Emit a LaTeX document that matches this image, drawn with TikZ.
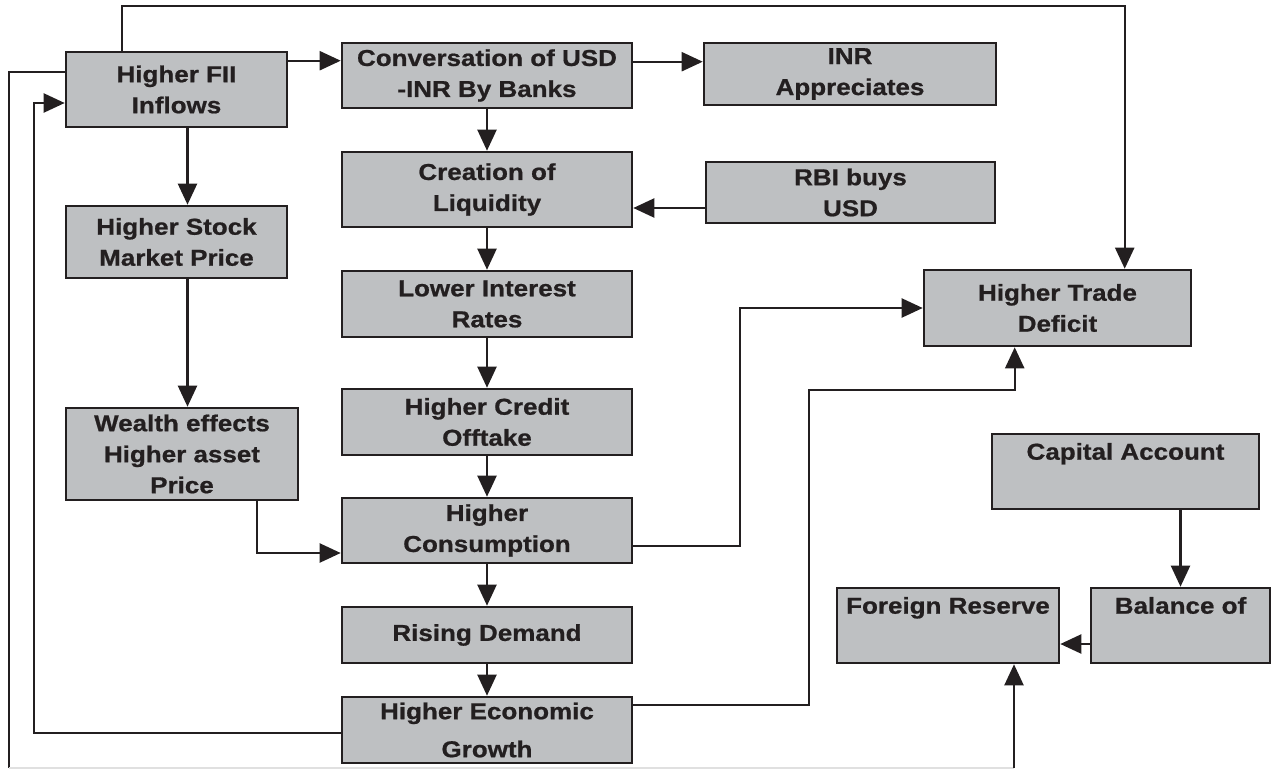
\documentclass[tikz,border=0pt]{standalone}
\usepackage{fontspec}
\setmainfont{Liberation Sans}[FakeStretch=1.13, BoldFeatures={FakeBold=0.8}]
\usetikzlibrary{arrows.meta, positioning, calc}
\definecolor{boxgray}{RGB}{190,192,194}
\definecolor{inkgray}{RGB}{35,31,32}

\begin{document}
\begin{tikzpicture}[x=1pt, y=-1pt,
  every node/.style={font=\fontsize{23}{31}\selectfont\bfseries},
  box/.style={draw=inkgray, fill=boxgray, line width=2.6pt, inner sep=0pt,
    align=center, text=inkgray},
  arr/.style={draw=inkgray, line width=2.2pt,
    -{Triangle[length=21pt,width=19pt]}}]
  \useasboundingbox (0,0) rectangle (1271,771);
  % left column
  \node[box, minimum width=221pt, minimum height=75pt] (fii) at (176.5,89.5)
    {Higher FII\\Inflows};
  \node[box, minimum width=221pt, minimum height=72pt] (stock) at (176.5,242)
    {Higher Stock\\Market Price};
  \node[box, minimum width=232pt, minimum height=92pt] (wealth) at (182,454)
    {Wealth effects\\Higher asset\\Price};
  % middle column
  \node[box, minimum width=290pt, minimum height=65pt] (conv) at (487,75.5)
    {Conversation of USD\\-INR By Banks};
  \node[box, minimum width=290pt, minimum height=75pt] (liq) at (487,189.5)
    {Creation of\\Liquidity};
  \node[box, minimum width=290pt, minimum height=66pt] (rate) at (487,304)
    {Lower Interest\\Rates};
  \node[box, minimum width=290pt, minimum height=66pt] (credit) at (487,422)
    {Higher Credit\\Offtake};
  \node[box, minimum width=290pt, minimum height=65pt] (cons) at (487,530.5)
    {Higher\\Consumption};
  \node[box, minimum width=290pt, minimum height=56pt] (demand) at (487,635)
    {Rising Demand};
  \node[box, minimum width=290pt, minimum height=66pt] (growth) at (487,730)
    {Higher Economic\\[7pt]Growth};
  % right side
  \node[box, minimum width=292pt, minimum height=62pt] (inr) at (850,74)
    {INR\\Appreciates};
  \node[box, minimum width=289pt, minimum height=61pt] (rbi) at (850.5,192.5)
    {RBI buys\\USD};
  \node[box, minimum width=267pt, minimum height=76pt] (trade) at (1057.5,308)
    {Higher Trade\\Deficit};
  \node[box, minimum width=267pt, minimum height=75pt] (capital) at (1125.5,471.5)
    {Capital Account\\\strut};
  \node[box, minimum width=179pt, minimum height=75pt] (bop) at (1180.5,625.5)
    {Balance of\\\strut};
  \node[box, minimum width=222pt, minimum height=75pt] (reserve) at (948,625.5)
    {Foreign Reserve\\\strut};

  % main chain
  \foreach \a/\b in {conv/liq, liq/rate, rate/credit, credit/cons,
                     cons/demand, demand/growth}
    \draw[arr] (\a.south) -- (\b.north);
  \draw[arr] ($(fii.north east)+(0,10)$) -- ($(conv.north west)+(0,19)$);
  \draw[arr] ($(conv.north east)+(0,20)$) -- ($(inr.north west)+(0,20)$);
  \draw[arr] ($(rbi.west)+(0,15.5)$) -- ($(liq.east)+(0,18.5)$);
  % stock market branch
  \coordinate (sv) at (187.5,0);
  \draw[arr] (fii.south -| sv) -- (stock.north -| sv);
  \draw[arr] (stock.south -| sv) -- (wealth.north -| sv);
  \draw[arr] ($(wealth.south east)+(-42,0)$) |- ($(cons.west)+(0,22.5)$);
  % into trade deficit
  \coordinate (tb) at ($(trade.south west)+(92,0)$);
  \draw[arr] ($(fii.north west)+(57,0)$) -- ++(0,-45) -| ($(trade.north west)+(202,0)$);
  \draw[arr] ($(cons.east)+(0,15.5)$) -- ++(107,0) |- (trade.west);
  \draw[arr] ($(growth.east)+(0,-25)$) -- ++(176,0) -- ++(0,-315) -| (tb);
  % feedback to FII
  \draw[arr] ($(growth.west)+(0,3)$) -- ++(-307,0) |- ($(fii.west)+(0,13.5)$);
  % FII to foreign reserve (along the bottom)
  \coordinate (rs) at ($(reserve.south)+(66,0)$);
  \draw[draw=inkgray, line width=2.2pt] ($(fii.west)+(0,-17.5)$) -- ++(-56,0)
    -- ++(0,696) coordinate (bl);
  \draw[black!12, line width=1.5pt] (bl) -- (rs |- bl);
  \draw[arr] (rs |- bl) -- (rs);
  % balance of payments
  \draw[arr] (bop.north |- capital.south) -- (bop.north);
  \draw[arr] ($(bop.west)+(0,18.5)$) -- ($(reserve.east)+(0,18.5)$);
\end{tikzpicture}
\end{document}
